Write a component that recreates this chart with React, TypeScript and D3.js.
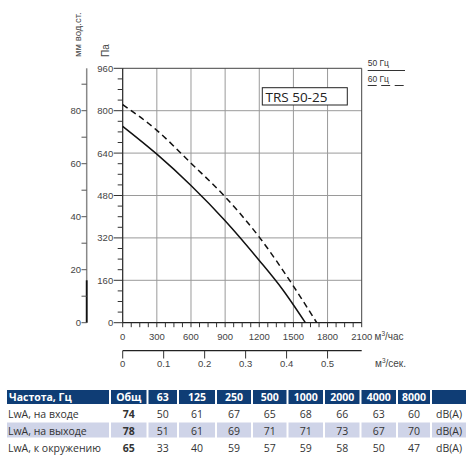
import * as d3 from 'd3';

// flow, m³/h and pressure, Pa
const flow50 = [0, 300, 600, 900, 1200, 1400, 1605];
const pres50 = [741, 636, 518, 385, 235, 128, 0];
const flow60 = [0, 300, 600, 900, 1200, 1500, 1705];
const pres60 = [823, 726, 602, 475, 323, 138, 0];

const paTicks = [0, 160, 320, 480, 640, 800, 960];
const mmTicks = [0, 20, 40, 60, 80];
const flowTicks = [0, 300, 600, 900, 1200, 1500, 1800, 2100];
const secTicks = [0, 0.1, 0.2, 0.3, 0.4, 0.5];

const freqHeaders = ['Общ', '63', '125', '250', '500', '1000', '2000', '4000', '8000'];
const rowLabels = ['LwA, на входе', 'LwA, на выходе', 'LwA, к окружению'];
const lwaInlet = [74, 50, 61, 67, 65, 68, 66, 63, 60];
const lwaOutlet = [78, 51, 61, 69, 71, 71, 73, 67, 70];
const lwaSurround = [65, 33, 40, 59, 57, 59, 58, 50, 47];

const left = 122.7, right = 361.7, top = 68.3, bottom = 322.7;

const x = d3.scaleLinear().domain([0, 2100]).range([left, right]);
const y = d3.scaleLinear().domain([0, 960]).range([bottom, top]);
const yMm = d3.scaleLinear().domain([0, 96]).range([bottom, top]);
const xSec = d3.scaleLinear().domain([0, 2100 / 3600]).range([left, right]);

const line = d3.line<[number, number]>()
  .x(d => x(d[0]))
  .y(d => y(d[1]))
  .curve(d3.curveMonotoneX);

const tickFont = { fontFamily: 'Liberation Sans, Arial, sans-serif', fontSize: 9.5, fill: '#444' };
const tableFont = 'Open Sans, sans-serif';

// table column edges (px)
const colEdges = [6, 110, 147.5, 178, 216, 252, 287.5, 324, 360.5, 397, 431, 467];

export default function App() {
  const rows = [lwaInlet, lwaOutlet, lwaSurround];
  const rowTop = [404, 422.5, 438.5];
  const rowBase = [417.5, 434.5, 452];

  return (
    <svg width={470} height={461} style={{ position: 'absolute', left: 0, top: 0, background: '#fff' }}>
      {/* grid */}
      {flowTicks.slice(1, -1).map(t => (
        <line key={'gx' + t} x1={x(t)} x2={x(t)} y1={top} y2={bottom} stroke="#9a9a9a" strokeWidth={1} />
      ))}
      {paTicks.slice(1, -1).map(t => (
        <line key={'gy' + t} x1={left} x2={right} y1={y(t)} y2={y(t)} stroke="#9a9a9a" strokeWidth={1} />
      ))}
      <line x1={left} x2={right} y1={top} y2={top} stroke="#444" strokeWidth={1} />
      <line x1={right} x2={right} y1={top} y2={bottom} stroke="#444" strokeWidth={1} />

      {/* Pa axis */}
      <line x1={left} x2={left} y1={top} y2={bottom} stroke="#222" strokeWidth={1.2} />
      {d3.range(0, 961, 40).map(t => (
        <line key={'pm' + t} x1={left - (t % 160 === 0 ? 9 : 5)} x2={left} y1={y(t)} y2={y(t)} stroke="#333" strokeWidth={1} />
      ))}
      {paTicks.map(t => (
        <text key={'pl' + t} x={left - 9.5} y={y(t) + 3.4} textAnchor="end" {...tickFont}>{t}</text>
      ))}
      <text transform={`translate(${108.5},${57}) rotate(-90)`} {...tickFont} fontSize={10}>Па</text>

      {/* mm axis */}
      <line x1={86.7} x2={86.7} y1={top} y2={bottom} stroke="#888" strokeWidth={1.5} />
      <line x1={86.7} x2={86.7} y1={yMm(16)} y2={bottom} stroke="#111" strokeWidth={1.8} />
      {d3.range(0, 91, 10).map(t => (
        <line key={'mm' + t} x1={81.5} x2={86.7} y1={yMm(t)} y2={yMm(t)} stroke="#555" strokeWidth={1} />
      ))}
      {mmTicks.map(t => (
        <text key={'ml' + t} x={81} y={yMm(t) + 3.4} textAnchor="end" {...tickFont}>{t}</text>
      ))}
      <text transform={`translate(${80.5},${57}) rotate(-90)`} {...tickFont} fontSize={9.5}>мм вод.ст.</text>

      {/* flow axis m³/h */}
      <line x1={left} x2={right} y1={bottom} y2={bottom} stroke="#222" strokeWidth={1.2} />
      {d3.range(0, 2101, 75).map(t => (
        <line key={'fx' + t} x1={x(t)} x2={x(t)} y1={bottom} y2={bottom + 4.5} stroke="#333" strokeWidth={1} />
      ))}
      {flowTicks.map(t => (
        <text key={'fl' + t} x={x(t)} y={339.5} textAnchor="middle" {...tickFont}>{t}</text>
      ))}
      <text x={374.5} y={339.5} {...tickFont} fontSize={10}>м<tspan dy={-4} fontSize={6.5}>3</tspan><tspan dy={4}>/час</tspan></text>

      {/* flow axis m³/s */}
      <line x1={left} x2={right} y1={350.7} y2={350.7} stroke="#222" strokeWidth={1.2} />
      {secTicks.map(t => (
        <line key={'sx' + t} x1={xSec(t)} x2={xSec(t)} y1={350.7} y2={358.5} stroke="#333" strokeWidth={1} />
      ))}
      {secTicks.map(t => (
        <text key={'sl' + t} x={xSec(t)} y={367} textAnchor="middle" {...tickFont}>{t}</text>
      ))}
      <text x={375} y={367} {...tickFont} fontSize={10}>м<tspan dy={-4} fontSize={6.5}>3</tspan><tspan dy={4}>/сек.</tspan></text>

      {/* curves */}
      <path d={line(flow50.map((f, i) => [f, pres50[i]]))!} fill="none" stroke="#111" strokeWidth={1.5} />
      <path d={line(flow60.map((f, i) => [f, pres60[i]]))!} fill="none" stroke="#111" strokeWidth={1.5} strokeDasharray="6,4" />

      {/* model box */}
      <rect x={262.3} y={87.7} width={85} height={17.3} fill="#fff" stroke="#222" strokeWidth={1} />
      <text x={265.5} y={101.5} fontFamily={tableFont} fontSize={13.5} fill="#222">TRS 50-25</text>

      {/* legend */}
      <text x={367.7} y={66} fontFamily="Liberation Sans, Arial" fontSize={8.5} fill="#333">50 Гц</text>
      <line x1={367.7} x2={405} y1={70.5} y2={70.5} stroke="#333" strokeWidth={1} />
      <text x={367.7} y={81.5} fontFamily="Liberation Sans, Arial" fontSize={8.5} fill="#333">60 Гц</text>
      <line x1={367.7} x2={405} y1={85.5} y2={85.5} stroke="#333" strokeWidth={1} strokeDasharray="9,4.5" />

      {/* table header */}
      {colEdges.slice(0, -1).map((e, i) => (
        <rect key={'h' + i} x={e + 1} y={390} width={colEdges[i + 1] - e - 2} height={14} fill="#0f3d75" />
      ))}
      <text x={9} y={401} fontFamily={tableFont} fontWeight="bold" fontSize={10.5} fill="#fff">Частота, Гц</text>
      {freqHeaders.map((h, i) => (
        <text key={'hh' + i} x={(colEdges[i + 1] + colEdges[i + 2]) / 2} y={401} textAnchor="middle"
          fontFamily={tableFont} fontWeight="bold" fontSize={10.5} fill="#fff">{h}</text>
      ))}

      {/* table rows */}
      {rows.map((vals, r) => (
        <g key={'r' + r}>
          {r === 1 && colEdges.slice(0, -1).map((e, i) => (
            <rect key={'bg' + i} x={e + 1} y={rowTop[r]} width={colEdges[i + 1] - e - 2} height={15} fill="#cfd4e8" />
          ))}
          <text x={8} y={rowBase[r]} fontFamily={tableFont} fontSize={10.5} fill="#333">{rowLabels[r]}</text>
          {vals.map((v, i) => (
            <text key={'v' + i} x={(colEdges[i + 1] + colEdges[i + 2]) / 2} y={rowBase[r]} textAnchor="middle"
              fontFamily={tableFont} fontSize={10.5} fontWeight={i === 0 ? 'bold' : 'normal'} fill="#333">{v}</text>
          ))}
          <text x={(colEdges[10] + colEdges[11]) / 2} y={rowBase[r]} textAnchor="middle"
            fontFamily={tableFont} fontSize={10.5} fill="#333">dB(A)</text>
        </g>
      ))}
    </svg>
  );
}
